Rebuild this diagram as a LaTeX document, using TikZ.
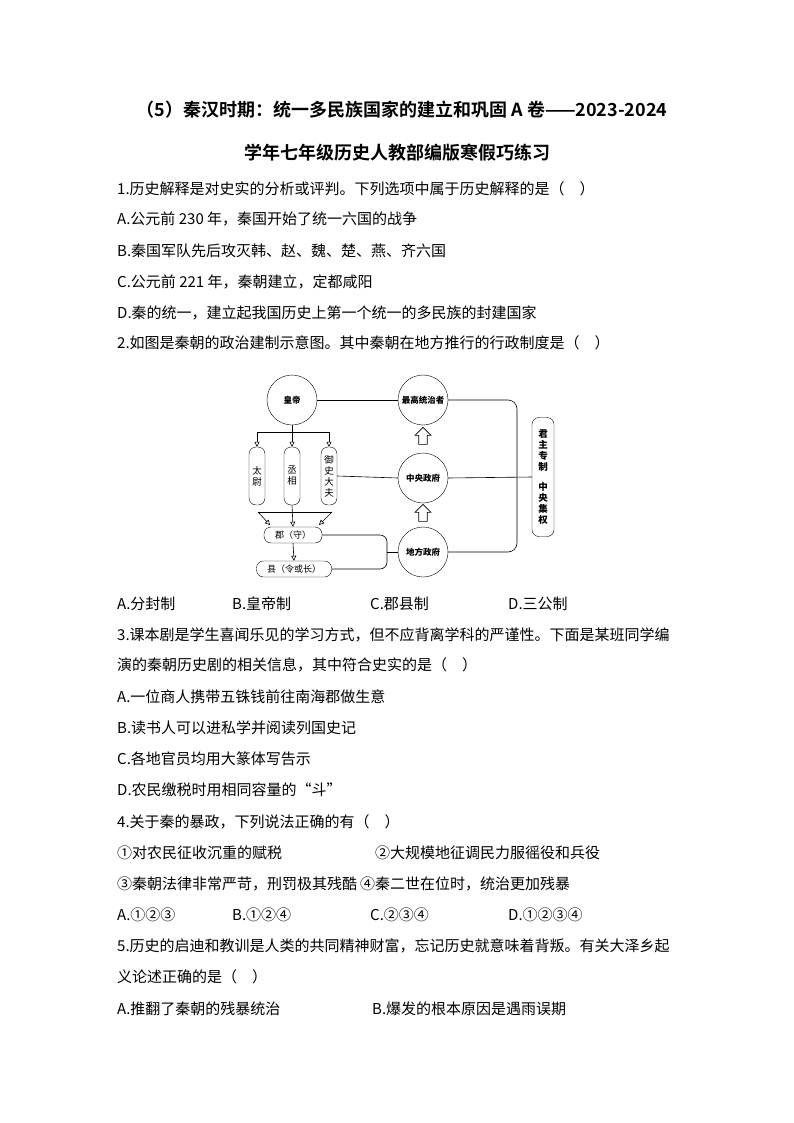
\documentclass[tikz,border=0pt]{standalone}
\usepackage{fontspec}
\setmainfont{Noto Sans CJK SC}
\newfontfamily\cjkb{Noto Sans CJK SC Bold}
\usetikzlibrary{arrows.meta,shapes.arrows}
\begin{document}
\begin{tikzpicture}[x=1pt,y=-1pt,
  txt/.style={anchor=west,inner sep=0pt,font=\fontsize{15}{16}\selectfont},
  ttl/.style={inner sep=0pt,font=\cjkb\fontsize{18}{19}\selectfont},
  circ/.style={draw,circle,minimum size=50pt,inner sep=0pt,font=\fontsize{8.5}{10}\selectfont\bfseries},
  vbox/.style={draw,rounded corners=7pt,minimum width=16pt,inner sep=1pt,font=\fontsize{9.5}{11}\selectfont,align=center},
  hbox/.style={draw,rounded corners=7pt,minimum height=16pt,inner sep=1pt,font=\fontsize{9}{10}\selectfont},
  ln/.style={line width=0.6pt},
  arr/.style={ln,-{Triangle[open,length=5pt,width=5pt]}},
  hol/.style={draw,single arrow,shape border rotate=90,minimum height=17pt,minimum width=16pt,single arrow head extend=2pt,inner sep=2pt,line width=0.6pt}]
\useasboundingbox (0,0) rectangle (794,1123);
\fill[white] (0,0) rectangle (794,1123);
\node[ttl] (t1) at (402,110) {（5）秦汉时期：统一多民族国家的建立和巩固 A 卷——2023-2024};
\node[ttl] (t2) at (397,153) {学年七年级历史人教部编版寒假巧练习};
\node[txt] (q1) at (117,189) {1.历史解释是对史实的分析或评判。下列选项中属于历史解释的是（\quad ）};
\node[txt] (q1a) at (117,219) {A.公元前 230 年，秦国开始了统一六国的战争};
\node[txt] (q1b) at (117,251) {B.秦国军队先后攻灭韩、赵、魏、楚、燕、齐六国};
\node[txt] (q1c) at (117,282) {C.公元前 221 年，秦朝建立，定都咸阳};
\node[txt] (q1d) at (117,313) {D.秦的统一，建立起我国历史上第一个统一的多民族的封建国家};
\node[txt] (q2) at (117,343) {2.如图是秦朝的政治建制示意图。其中秦朝在地方推行的行政制度是（\quad ）};
% diagram
\node[circ] (hd) at (292,400) {皇帝};
\node[circ] (zg) at (423,400) {最高统治者};
\node[circ] (zy) at (423,478) {中央政府};
\node[circ] (df) at (423,552) {地方政府};
\node[hol] (h1) at (423,438) {};
\node[hol] (h2) at (423,515) {};
\node[vbox,minimum height=58pt] (tw) at (257,476) {太\\尉};
\node[vbox,minimum height=58pt] (cx) at (292,476) {丞\\相};
\node[vbox,minimum height=58pt] (ys) at (329,476) {御\\史\\大\\夫};
\node[vbox,minimum height=119pt,minimum width=22pt,font=\fontsize{9.5}{11}\selectfont\bfseries] (jz) at (543,477) {君\\主\\专\\制\\[9pt]中\\央\\集\\权};
\node[hbox,minimum width=58pt] (jun) at (293,535) {郡（守）};
\node[hbox,minimum width=75pt] (xian) at (294,569) {县（令或长）};
\coordinate (br) at (257,432);
\coordinate (bl) at (329,432);
\draw[ln] (hd.south) -- (292,432);
\draw[ln] (br) -- (bl);
\draw[arr] (br) -- (tw.north);
\draw[arr] (292,432) -- (cx.north);
\draw[arr] (bl) -- (ys.north);
\coordinate (tl) at (258,512);
\coordinate (tr) at (332,512);
\draw[ln] (tl) -- (tr);
\draw[arr] (tl) -- (270,525);
\draw[arr] (tr) -- (319,525);
\draw[arr] (cx.south) -- (jun.north);
\draw[arr] (jun.south) -- (xian.north);
\draw[ln] (hd.east) -- (zg.west);
\draw[ln] (ys.east) -- (zy.west);
\draw[ln] (zy.east) -- (jz.west);
\draw[ln,rounded corners=9pt] (zg.east) -- (517,400) -- (517,552) -- (df.east);
\draw[ln,rounded corners=7pt] (jun.east) -- (387,535) -- (387,569) -- (xian.east);
\draw[ln] (387,552) -- (df.west);
\node[txt] (o2a) at (117,604) {A.分封制};
\node[txt] (o2b) at (232,604) {B.皇帝制};
\node[txt] (o2c) at (370,604) {C.郡县制};
\node[txt] (o2d) at (508,604) {D.三公制};
\node[txt] (q3) at (117,635) {3.课本剧是学生喜闻乐见的学习方式，但不应背离学科的严谨性。下面是某班同学编};
\node[txt] (q3x) at (117,665) {演的秦朝历史剧的相关信息，其中符合史实的是（\quad ）};
\node[txt] (q3a) at (117,697) {A.一位商人携带五铢钱前往南海郡做生意};
\node[txt] (q3b) at (117,728) {B.读书人可以进私学并阅读列国史记};
\node[txt] (q3c) at (117,759) {C.各地官员均用大篆体写告示};
\node[txt] (q3d) at (117,790) {D.农民缴税时用相同容量的“斗”};
\node[txt] (q4) at (117,822) {4.关于秦的暴政，下列说法正确的有（\quad ）};
\node[txt] (q41) at (117,853) {①对农民征收沉重的赋税};
\node[txt] (q42) at (375,853) {②大规模地征调民力服徭役和兵役};
\node[txt] (q43) at (117,884) {③秦朝法律非常严苛，刑罚极其残酷};
\node[txt] (q44) at (360,884) {④秦二世在位时，统治更加残暴};
\node[txt] (o4a) at (117,915) {A.①②③};
\node[txt] (o4b) at (232,915) {B.①②④};
\node[txt] (o4c) at (370,915) {C.②③④};
\node[txt] (o4d) at (508,915) {D.①②③④};
\node[txt] (q5) at (117,946) {5.历史的启迪和教训是人类的共同精神财富，忘记历史就意味着背叛。有关大泽乡起};
\node[txt] (q5x) at (117,977) {义论述正确的是（\quad ）};
\node[txt] (q5a) at (117,1009) {A.推翻了秦朝的残暴统治};
\node[txt] (q5b) at (372,1009) {B.爆发的根本原因是遇雨误期};
\end{tikzpicture}
\end{document}
